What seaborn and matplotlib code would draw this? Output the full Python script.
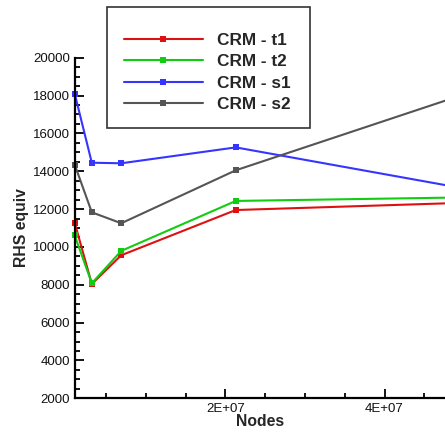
import matplotlib
matplotlib.use("Agg")
import matplotlib.pyplot as plt
from matplotlib.patches import Rectangle
from matplotlib.ticker import MultipleLocator, FixedLocator, FixedFormatter
import numpy as np
import pandas as pd
import seaborn as sns

# Mesh sizes (number of nodes) and RHS-equivalent work per case
nodes = [1.05e6, 3.2e6, 6.9e6, 2.13e7, 5.5e7]
crm_t1 = [11280, 8040, 9560, 11950, 12400]
crm_t2 = [10610, 8080, 9790, 12430, 12650]
crm_s1 = [18100, 14450, 14420, 15260, 12710]
crm_s2 = [14350, 11830, 11250, 14050, 18760]

series_names = ["CRM - t1", "CRM - t2", "CRM - s1", "CRM - s2"]
series_values = [crm_t1, crm_t2, crm_s1, crm_s2]
series_colors = ["#dd1111", "#11cc11", "#3535ff", "#555555"]

x_tick_values = [2e7, 4e7]
x_tick_labels = ["2E+07", "4E+07"]

frames = []
for name, vals in zip(series_names, series_values):
    frames.append(pd.DataFrame({"Nodes": nodes, "RHS": vals, "case": name}))
df = pd.concat(frames, ignore_index=True)

sns.set_style("ticks")
plt.rcParams["font.family"] = ["Liberation Sans", "DejaVu Sans"]

W, H = 445, 434
fig = plt.figure(figsize=(W / 100, H / 100), dpi=100)
ax = fig.add_axes([74.7 / W, 1 - 398.3 / H, 1 - 74.7 / W, (398.3 - 57.7) / H])

sns.lineplot(
    data=df, x="Nodes", y="RHS", hue="case", hue_order=series_names,
    palette=series_colors, marker="s", markersize=4.5, markeredgewidth=0,
    linewidth=1.5, ax=ax, legend=True, clip_on=False,
)

ax.set_xlim(1.05e6, 4.76e7)
ax.set_ylim(2000, 20000)

ax.xaxis.set_major_locator(FixedLocator(x_tick_values))
ax.xaxis.set_major_formatter(FixedFormatter(x_tick_labels))
ax.xaxis.set_minor_locator(MultipleLocator(5e6))
ax.yaxis.set_major_locator(MultipleLocator(2000))
ax.yaxis.set_minor_locator(MultipleLocator(500))

ax.tick_params(which="both", direction="in", color="black", width=1.3)
ax.tick_params(which="major", length=6.8, labelsize=9.5, pad=3.5, labelcolor="#111111")
ax.tick_params(which="minor", length=3.7)

for side in ("top", "right"):
    ax.spines[side].set_visible(False)
for side in ("left", "bottom"):
    ax.spines[side].set_linewidth(1.6)
    ax.spines[side].set_color("black")

ax.set_xlabel("Nodes", fontsize=11.3, fontweight="bold", labelpad=-1)
ax.set_ylabel("RHS equiv", fontsize=11.3, fontweight="bold", labelpad=2.5)

# Legend placed in figure coordinates with its own frame
handles, labels = ax.get_legend_handles_labels()
ax.get_legend().remove()
fig.legend(
    handles, labels, loc="center", bbox_to_anchor=(207 / W, 1 - 72.3 / H),
    frameon=False, prop={"weight": "bold", "size": 12.4},
    handlelength=4.6, handletextpad=0.78, labelspacing=0.37, borderpad=0,
)
fig.patches.append(Rectangle(
    (107.3 / W, 1 - 128.3 / H), (310 - 107.3) / W, (128.3 - 7.3) / H,
    transform=fig.transFigure, fill=False, edgecolor="#333333", linewidth=1.2,
))

fig.savefig("out.png", dpi=100)
